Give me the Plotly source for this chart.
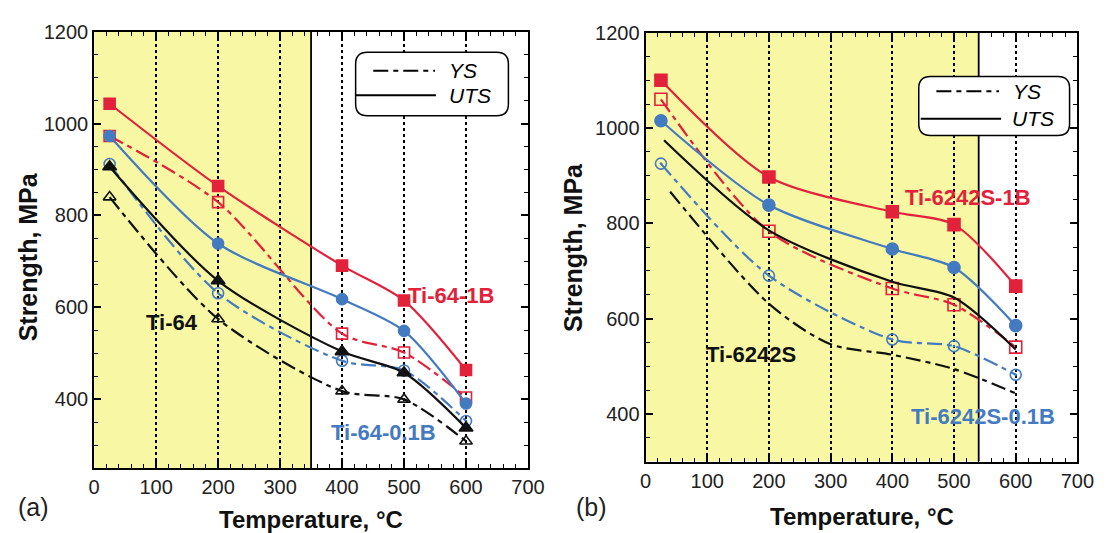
import plotly.graph_objects as go

W, H = 1114, 533

# ---------------- data ----------------
temps = [25, 200, 400, 500, 600]

# panel (a)
a_ti64_1b_uts = [1043, 864, 691, 615, 464]
a_ti64_1b_ys = [973, 829, 543, 502, 404]
a_ti64_01b_uts = [973, 739, 618, 549, 391]
a_ti64_01b_ys = [912, 631, 484, 463, 353]
a_ti64_uts = [906, 658, 504, 458, 338]
a_ti64_ys = [840, 575, 418, 400, 309]

# panel (b)
b_1b_uts = [1100, 897, 824, 797, 668]
b_1b_ys = [1060, 783, 663, 629, 540]
b_01b_uts = [1015, 838, 746, 707, 585]
b_01b_ys = [925, 690, 556, 542, 482]
b_s_uts_t = [30, 200, 400, 500, 600]
b_s_uts = [974, 785, 677, 644, 535]
b_s_ys_t = [40, 200, 300, 400, 500, 600]
b_s_ys = [866, 631, 546, 524, 494, 443]

x_ticks = [0, 100, 200, 300, 400, 500, 600, 700]
a_yrange = [250, 1200]
b_yrange = [300, 1200]
a_shade_end = 350
b_shade_end = 540

RED = '#E2223B'
BLUE = '#447BC0'
BLACK = '#111111'
YELLOW = '#F8F8A4'
DASHDOT = '15px,5px,5px,5px'
FONT = 'Liberation Sans, Arial, sans-serif'

fig = go.Figure()


def add(xs, ys, color, dash, symbol, xa, ya, msize=11):
    mode = 'lines+markers' if symbol else 'lines'
    fig.add_trace(go.Scatter(
        x=xs, y=ys, mode=mode, xaxis=xa, yaxis=ya, showlegend=False,
        line=dict(color=color, width=2.2, dash=dash, shape='spline', smoothing=0.8),
        marker=dict(symbol=symbol or 'circle', size=msize, color=color,
                    line=dict(color=color, width=1.6)),
        hoverinfo='x+y'))


# panel (a)
add(temps, a_ti64_ys, BLACK, DASHDOT, 'triangle-up-open', 'x', 'y')
add(temps, a_ti64_01b_ys, BLUE, DASHDOT, 'circle-open-dot', 'x', 'y')
add(temps, a_ti64_1b_ys, RED, DASHDOT, 'square-open', 'x', 'y')
add(temps, a_ti64_uts, BLACK, 'solid', 'triangle-up', 'x', 'y', 12)
add(temps, a_ti64_01b_uts, BLUE, 'solid', 'circle', 'x', 'y')
add(temps, a_ti64_1b_uts, RED, 'solid', 'square', 'x', 'y')

# panel (b)
add(b_s_ys_t, b_s_ys, BLACK, DASHDOT, None, 'x2', 'y2')
add(temps, b_01b_ys, BLUE, DASHDOT, 'circle-open-dot', 'x2', 'y2')
add(temps, b_1b_ys, RED, DASHDOT, 'square-open', 'x2', 'y2', 12)
add(b_s_uts_t, b_s_uts, BLACK, 'solid', None, 'x2', 'y2')
add(temps, b_01b_uts, BLUE, 'solid', 'circle', 'x2', 'y2', 12)
add(temps, b_1b_uts, RED, 'solid', 'square', 'x2', 'y2', 12)


def xaxis(domain, anchor):
    return dict(domain=domain, anchor=anchor, range=[0, 700], tickvals=x_ticks,
                showline=True, linecolor='black', linewidth=2, mirror='allticks',
                ticks='inside', ticklen=7, tickwidth=1.5, tickcolor='black',
                showgrid=True, gridcolor='black', griddash='dot', gridwidth=1.6,
                zeroline=False, tickfont=dict(family=FONT, size=20, color='#222'),
                minor=dict(ticks='inside', dtick=20, ticklen=4, tickwidth=1.2,
                           tickcolor='black', showgrid=False))


def yaxis(domain, anchor, rng):
    return dict(domain=domain, anchor=anchor, range=rng, dtick=200, tick0=0,
                showline=True, linecolor='black', linewidth=2, mirror='allticks',
                ticks='inside', ticklen=7, tickwidth=1.5, tickcolor='black',
                showgrid=False, zeroline=False,
                tickfont=dict(family=FONT, size=20, color='#222'),
                minor=dict(ticks='inside', dtick=50, ticklen=4, tickwidth=1.2,
                           tickcolor='black', showgrid=False))


def px(x):
    return x / W


def py(y):
    return 1 - y / H


fig.update_layout(
    width=W, height=H, margin=dict(l=0, r=0, t=0, b=0),
    paper_bgcolor='white', plot_bgcolor='white',
    xaxis=xaxis([px(90), px(533)], 'y'),
    yaxis=yaxis([py(467), py(21)], 'x', a_yrange),
    xaxis2=xaxis([px(653), px(1094)], 'y2'),
    yaxis2=yaxis([py(460), py(22)], 'x2', b_yrange),
)

shapes = []
# yellow shaded regions + boundary lines
for xr, yr, end, rng in (('x', 'y', a_shade_end, a_yrange), ('x2', 'y2', b_shade_end, b_yrange)):
    shapes.append(dict(type='rect', xref=xr, yref=yr, x0=0, x1=end, y0=rng[0], y1=rng[1],
                       fillcolor=YELLOW, line=dict(width=0), layer='below'))
    shapes.append(dict(type='line', xref=xr, yref=yr, x0=end, x1=end, y0=rng[0], y1=rng[1],
                       line=dict(color='black', width=1.8), layer='below'))


def rounded_box(x0, y0, x1, y1, r):
    X0, X1 = px(x0), px(x1)
    Y0, Y1 = py(y0), py(y1)
    rx, ry = r / W, r / H
    return (f"M {X0+rx},{Y0} L {X1-rx},{Y0} Q {X1},{Y0} {X1},{Y0-ry} "
            f"L {X1},{Y1+ry} Q {X1},{Y1} {X1-rx},{Y1} L {X0+rx},{Y1} "
            f"Q {X0},{Y1} {X0},{Y1+ry} L {X0},{Y0-ry} Q {X0},{Y0} {X0+rx},{Y0} Z")


annotations = []
legends = [
    dict(box=(357, 42, 513, 107), ys=(375, 438, 61), yst=(467, 61), uts=(357, 439, 86), utst=(474, 86)),
    dict(box=(932, 67, 1086, 127), ys=(950, 1014, 82), yst=(1043, 82), uts=(934, 1016, 110), utst=(1049, 110)),
]
for lg in legends:
    bx = lg['box']
    shapes.append(dict(type='path', xref='paper', yref='paper', path=rounded_box(*bx, 12),
                       fillcolor='white', line=dict(color='black', width=1.5), layer='above'))
    x0, x1, y = lg['ys']
    shapes.append(dict(type='line', xref='paper', yref='paper', x0=px(x0), x1=px(x1), y0=py(y), y1=py(y),
                       line=dict(color='black', width=2, dash=DASHDOT), layer='above'))
    x0, x1, y = lg['uts']
    shapes.append(dict(type='line', xref='paper', yref='paper', x0=px(x0), x1=px(x1), y0=py(y), y1=py(y),
                       line=dict(color='black', width=2), layer='above'))
    for key, txt in (('yst', 'YS'), ('utst', 'UTS')):
        tx, ty = lg[key]
        annotations.append(dict(xref='paper', yref='paper', x=px(tx), y=py(ty), text=f'<i>{txt}</i>',
                                showarrow=False, xanchor='center', yanchor='middle',
                                font=dict(family=FONT, size=21, color='black')))

# series labels (data coords)
labels = [
    ('x', 'y', 575, 626, 'Ti-64-1B', RED),
    ('x', 'y', 126, 567, 'Ti-64', BLACK),
    ('x', 'y', 467, 327, 'Ti-64-0.1B', BLUE),
    ('x2', 'y2', 522, 854, 'Ti-6242S-1B', RED),
    ('x2', 'y2', 171, 524, 'Ti-6242S', BLACK),
    ('x2', 'y2', 547, 395, 'Ti-6242S-0.1B', BLUE),
]
for xr, yr, x, y, t, c in labels:
    annotations.append(dict(xref=xr, yref=yr, x=x, y=y, text=f'<b>{t}</b>', showarrow=False,
                            xanchor='center', yanchor='middle',
                            font=dict(family=FONT, size=22, color=c)))

# axis titles & panel labels (paper coords)
for x, y, t in ((311, 519, 'Temperature, °C'), (874, 516, 'Temperature, °C')):
    annotations.append(dict(xref='paper', yref='paper', x=px(x), y=py(y), text=f'<b>{t}</b>',
                            showarrow=False, xanchor='center', yanchor='middle',
                            font=dict(family=FONT, size=24, color='#111')))
for x, y in ((22, 251), (579, 242)):
    annotations.append(dict(xref='paper', yref='paper', x=px(x), y=py(y), text='<b>Strength, MPa</b>',
                            showarrow=False, xanchor='center', yanchor='middle', textangle=-90,
                            font=dict(family=FONT, size=25, color='#111')))
for x, y, t in ((28, 506, '(a)'), (598, 506, '(b)')):
    annotations.append(dict(xref='paper', yref='paper', x=px(x), y=py(y), text=t,
                            showarrow=False, xanchor='center', yanchor='middle',
                            font=dict(family=FONT, size=25, color='#222')))

fig.update_layout(shapes=shapes, annotations=annotations)
fig.write_html('out.html')
